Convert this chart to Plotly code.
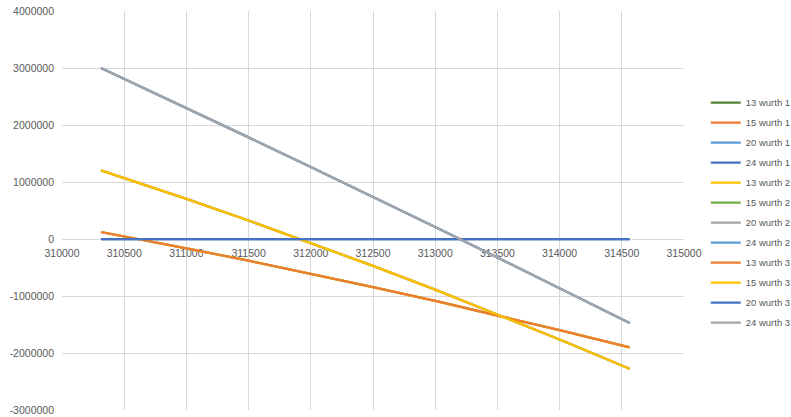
import plotly.graph_objects as go

# Position values (x) shared by every series
x_vals = [310313, 310500, 311000, 311500, 312000, 312500, 313000, 313500, 314000, 314563]

# Values per size; the three "wurth" sets share the same curve for a given size
size_13 = [123000, 47000, -163000, -381000, -608000, -843000, -1087000, -1338000, -1599000, -1902000]
size_15 = [1203000, 1069000, 703000, 324000, -68000, -472000, -889000, -1319000, -1762000, -2275000]
size_20 = [0, 0, 0, 0, 0, 0, 0, 0, 0, 0]
size_24 = [3000000, 2810000, 2298000, 1783000, 1262000, 738000, 209000, -325000, -863000, -1474000]

series_names = ["13 wurth 1", "15 wurth 1", "20 wurth 1", "24 wurth 1",
                "13 wurth 2", "15 wurth 2", "20 wurth 2", "24 wurth 2",
                "13 wurth 3", "15 wurth 3", "20 wurth 3", "24 wurth 3"]
series_values = [size_13, size_15, size_20, size_24,
                 size_13, size_15, size_20, size_24,
                 size_13, size_15, size_20, size_24]
series_colors = ["#548235", "#ED7D31", "#5B9BD5", "#4472C4",
                 "#FFC000", "#70AD47", "#A5A5A5", "#5B9BD5",
                 "#ED7D31", "#FFC000", "#4472C4", "#A5A5A5"]

y_ticks = [-3000000, -2000000, -1000000, 0, 1000000, 2000000, 3000000, 4000000]
x_ticks = [310000, 310500, 311000, 311500, 312000, 312500, 313000, 313500, 314000, 314500, 315000]

fig = go.Figure()
for name, vals, col in zip(series_names, series_values, series_colors):
    fig.add_trace(go.Scatter(x=x_vals, y=vals, mode="lines", name=name,
                             legendgroup=name,
                             line=dict(color=col, width=2.25)))

font_family = "Liberation Sans, Arial, sans-serif"

fig.update_layout(
    width=791, height=417,
    margin=dict(l=62, r=107, t=11, b=7, autoexpand=False),
    paper_bgcolor="white", plot_bgcolor="white",
    font=dict(family=font_family, size=10.5, color="#595959"),
    showlegend=True,
    legend=dict(x=1.035, y=0.807, xanchor="left", yanchor="top",
                font=dict(size=9.5, color="#595959"),
                bgcolor="rgba(0,0,0,0)", tracegroupgap=1),
    xaxis=dict(range=[310000, 315000], tickvals=x_ticks,
               ticktext=[str(v) for v in x_ticks],
               showgrid=True, gridcolor="#D9D9D9", gridwidth=1,
               zeroline=False, showline=True, linecolor="#D9D9D9",
               layer="below traces", automargin=False,
               anchor="free", position=3 / 7, ticks="",
               ticklabelstandoff=4,
               tickfont=dict(size=10.5, color="#595959")),
    yaxis=dict(range=[-3000000, 4000000], tickvals=y_ticks,
               ticktext=[str(v) for v in y_ticks],
               showgrid=True, gridcolor="#D9D9D9", gridwidth=1,
               zeroline=False, showline=False, ticks="",
               automargin=False, ticklabelstandoff=7,
               tickfont=dict(size=10.5, color="#595959")),
)

fig.write_html("out.html")
